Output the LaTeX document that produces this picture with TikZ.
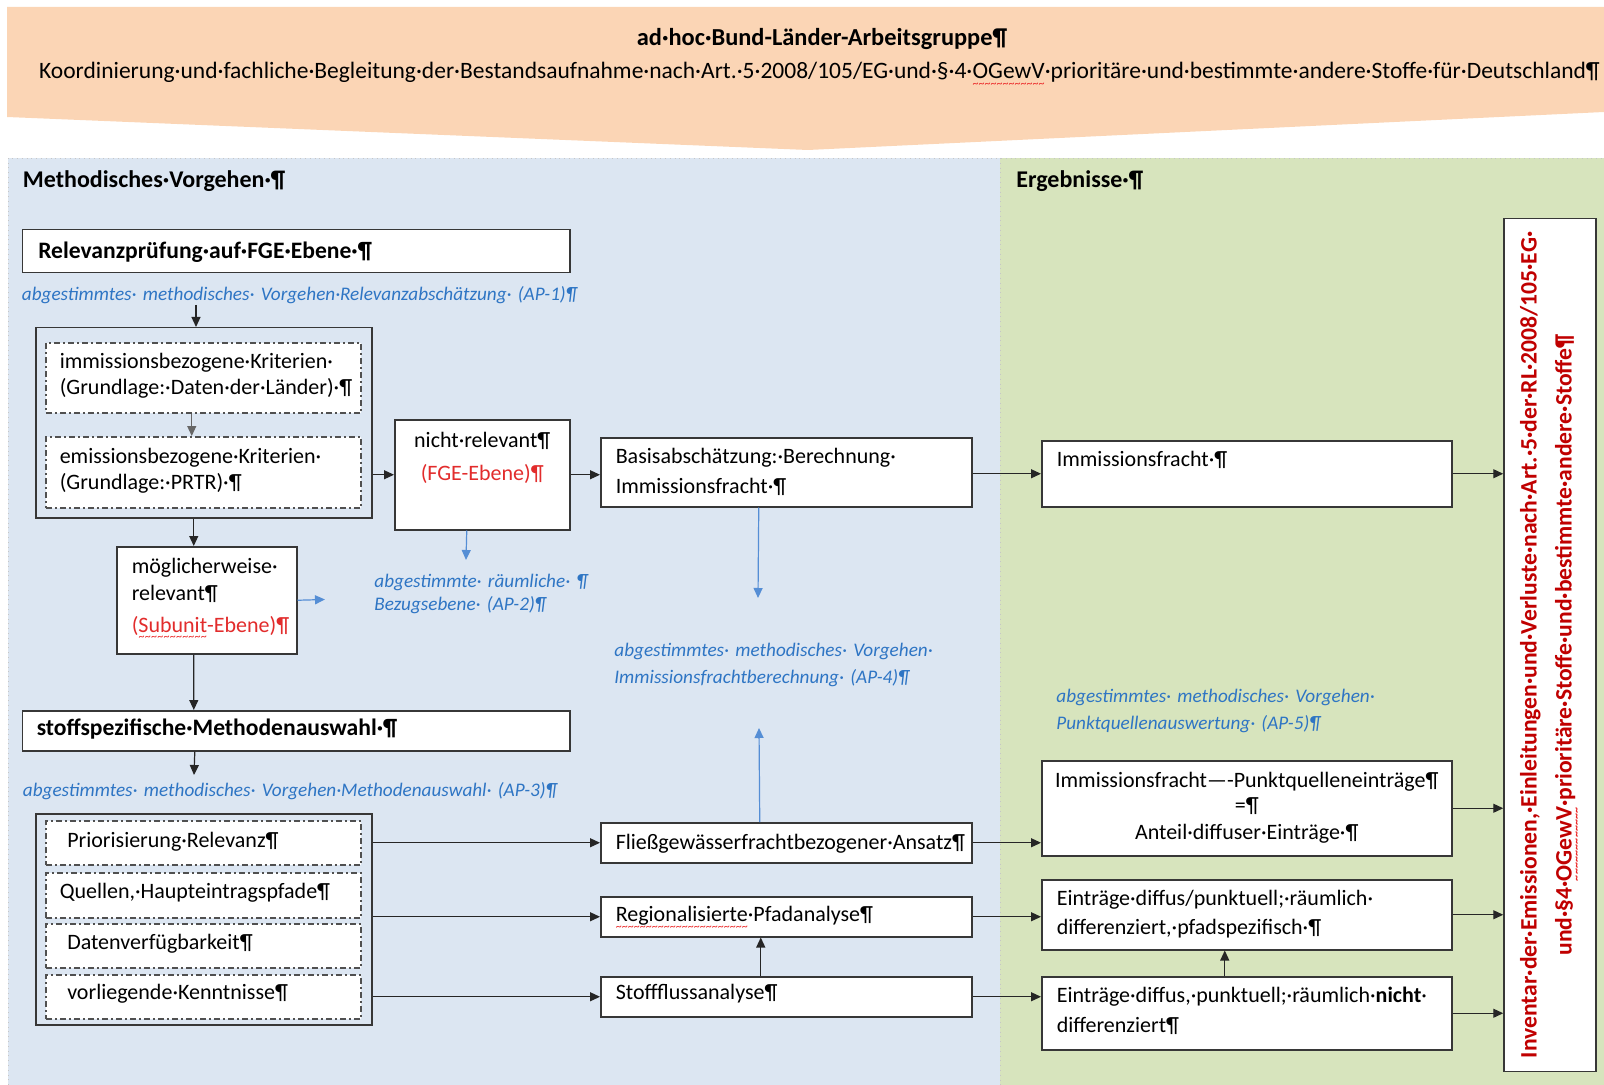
\documentclass[tikz,border=0pt]{standalone}
\usepackage{fontspec}
\setmainfont{Carlito}
\usepackage{tikz}
\usetikzlibrary{arrows.meta}

\definecolor{bannerorange}{RGB}{251,213,181}
\definecolor{panelblue}{RGB}{220,230,242}
\definecolor{panelgreen}{RGB}{215,228,189}
\definecolor{boxgray}{RGB}{55,55,55}
\definecolor{dashgray}{RGB}{80,80,80}
\definecolor{notetext}{RGB}{46,117,196}
\definecolor{notearrow}{RGB}{85,142,213}
\definecolor{fgered}{RGB}{226,44,44}
\definecolor{invred}{RGB}{192,0,0}
\definecolor{spellred}{RGB}{235,40,40}

\newcommand\spellmark[1]{\leavevmode\setbox0\hbox{#1}\rlap{\raisebox{-4.2pt}{\textcolor{spellred}{\hbox to\wd0{\xleaders\hbox{\fontsize{6}{6}\selectfont\textasciitilde}\hfill}}}}\box0}

\begin{document}
\begin{tikzpicture}[x=0.5pt, y=-0.5pt,
		box/.style={draw=boxgray, line width=0.75pt, fill=white, anchor=north west, inner ysep=0pt, inner xsep=7.5pt, align=left, font=\fontsize{11}{14.5}\selectfont},
		critbox/.style={box, draw=dashgray, dash pattern=on 3pt off 1.5pt on 1pt off 1.5pt, font=\fontsize{11}{13}\selectfont},
		outerbox/.style={draw=boxgray, line width=0.75pt, anchor=north west, inner sep=0pt},
		headbox/.style={box, font=\fontsize{11.8}{14}\selectfont\bfseries},
		note/.style={text=notetext, anchor=base west, inner sep=0pt, align=left, text width=330pt, font=\fontsize{9.6}{13.5}\selectfont\itshape},
		head/.style={anchor=base west, inner sep=0pt, font=\fontsize{12}{14}\selectfont\bfseries},
		arr/.style={-{Triangle[length=5pt,width=4.5pt]}, line width=0.6pt, draw=black!85},
		barr/.style={arr, draw=notearrow}]
	\useasboundingbox (0,0) rectangle (1604,1085);
	
	\fill [bannerorange] (7,7) -- (1604,7) -- (1604,112) -- (808,150) -- (7,117) -- cycle;
	\fill [panelblue] (8,158) rectangle (1000,1085);
	\fill [panelgreen] (1000,158) rectangle (1604,1085);
	\draw [gray!45, dotted] (8,1085) -- (8,158) -- (1604,158);
	\draw [gray!45, dotted] (1000,158) -- (1000,1085);
	
	\node [anchor=base, font=\fontsize{12.2}{14}\selectfont\bfseries] (title) at (822,46) {ad·hoc·Bund-Länder-Arbeitsgruppe¶};
	\node [anchor=base, font=\fontsize{11.75}{14}\selectfont] (subtitle) at (819.5,79) {Koordinierung·und·fachliche·Begleitung·der·Bestandsaufnahme·nach·Art.·5·2008/105/EG·und·§·4·\spellmark{OGewV}·prioritäre·und·bestimmte·andere·Stoffe·für·Deutschland¶};
	
	\node [head] (methods) at (22.5,188) {Methodisches·Vorgehen·¶};
	\node [head] (results) at (1016,188) {Ergebnisse·¶};
	
	\node [headbox, inner xsep=8pt, text width=257.75pt, text height=14.5pt, text depth=7pt] (rel) at (21.5,229) {Relevanzprüfung·auf·FGE·Ebene·¶};
	\node [note] (ap1) at (21.5,300) {abgestimmtes· methodisches· Vorgehen·Relevanzabschätzung· (AP-1)¶};
	
	\node [outerbox, minimum width=168pt, minimum height=95pt] (crit) at (35,327) {};
	\node [critbox, inner xsep=7pt, text width=143.5pt, text height=13pt, text depth=22pt] (immk) at (45,342) {immissionsbezogene·Kriterien·\\(Grundlage:·Daten·der·Länder)·¶};
	\node [critbox, inner xsep=7pt, text width=143.5pt, text height=13.5pt, text depth=22pt] (emik) at (45,436) {emissionsbezogene·Kriterien·\\(Grundlage:·PRTR)·¶};
	
	\node [box, align=center, inner xsep=2pt, text width=83.5pt, text height=14pt, text depth=41pt] (nicht) at (394,419) {nicht·relevant¶\\[2pt]\textcolor{fgered}{(FGE-Ebene)¶}};
	\node [box, text width=170.5pt, text height=13pt, text depth=21.5pt] (basis) at (600,437) {Basisabschätzung:·Berechnung·\\[0.5pt]Immissionsfracht·¶};
	\node [box, text width=75pt, text height=13.5pt, text depth=40pt] (mog) at (116,546) {möglicherweise·\\[-1.2pt]relevant¶\\[1.4pt]\rlap{\textcolor{fgered}{(\spellmark{Subunit}-Ebene)¶}}};
	\node [note] (ap2) at (374,587) {abgestimmte· räumliche· ¶\\[-2pt]Bezugsebene· (AP-2)¶};
	\node [note] (ap4) at (614,656) {abgestimmtes· methodisches· Vorgehen·\\Immissionsfrachtberechnung· (AP-4)¶};
	
	\node [headbox, inner xsep=7.25pt, text width=259.25pt, text height=12.5pt, text depth=7.5pt] (stoff) at (21.5,710) {stoffspezifische·Methodenauswahl·¶};
	\node [note] (ap3) at (22.5,796) {abgestimmtes· methodisches· Vorgehen·Methodenauswahl· (AP-3)¶};
	
	\node [outerbox, minimum width=168pt, minimum height=105.5pt] (sel) at (35,813) {};
	\node [critbox, inner xsep=10.75pt, text width=136pt, text height=13.5pt, text depth=8.5pt] (prio) at (45,820) {Priorisierung·Relevanz¶};
	\node [critbox, inner xsep=7pt, text width=143.5pt, text height=13pt, text depth=9.5pt] (quel) at (45,872) {Quellen,·Haupteintragspfade¶};
	\node [critbox, inner xsep=10.75pt, text width=136pt, text height=13pt, text depth=9pt] (daten) at (45,923) {Datenverfügbarkeit¶};
	\node [critbox, inner xsep=10.75pt, text width=136pt, text height=12.5pt, text depth=9.5pt] (vorl) at (45,974) {vorliegende·Kenntnisse¶};
	
	\node [box, text width=170.5pt, text height=13.5pt, text depth=6.5pt] (fliess) at (600,822) {Fließgewässerfrachtbezogener·Ansatz¶};
	\node [box, text width=170.5pt, text height=12.5pt, text depth=7.5pt] (regio) at (600,896) {\spellmark{Regionalisierte}·Pfadanalyse¶};
	\node [box, text width=170.5pt, text height=11.5pt, text depth=8.5pt] (stfl) at (600,976) {Stoffflussanalyse¶};
	
	\node [box, text width=190pt, text height=13pt, text depth=20pt] (immfr) at (1041,440) {Immissionsfracht·¶};
	\node [note] (ap5) at (1056,702) {abgestimmtes· methodisches· Vorgehen·\\Punktquellenauswertung· (AP-5)¶};
	\node [box, align=center, inner xsep=2pt, text width=201pt, text height=13.5pt, text depth=34pt, font=\fontsize{11}{13}\selectfont] (punkt) at (1041,760) {Immissionsfracht—-Punktquelleneinträge¶\\[-0.5pt]=¶\\[0.5pt]Anteil·diffuser·Einträge·¶};
	\node [box, text width=190pt, text height=13pt, text depth=22pt] (dp) at (1041,879) {Einträge·diffus/punktuell;·räumlich·\\differenziert,·pfadspezifisch·¶};
	\node [box, text width=190pt, text height=13pt, text depth=23.5pt] (nd) at (1041,976) {Einträge·diffus,·punktuell;·räumlich·\textbf{nicht}·\\[0.5pt]differenziert¶};
	
	\node [draw=boxgray, line width=0.75pt, fill=white, rotate=90, minimum width=424pt, minimum height=46pt, text width=420pt, align=center, text=invred, font=\fontsize{11.8}{17.5}\selectfont\bfseries] (inv) at (1550,645) {Inventar·der·Emissionen,·Einleitungen·und·Verluste·nach·Art.·5·der·RL·2008/105·EG·\\und·§4·\spellmark{OGewV}·prioritäre·Stoffe·und·bestimmte·andere·Stoffe¶};
	
	\coordinate (ap1-out) at (196,305);
	\coordinate (ap2-tip) at (466,560);
	\coordinate (ap2-left) at (325,599.5);
	\coordinate (ap3-in) at (194,775);
	\coordinate (ap4-top) at (758,598);
	\coordinate (ap4-bot) at (759,728);
	
	\draw [arr] (ap1-out) -- (ap1-out |- crit.north);
	\draw [arr, draw=black!60] ([xshift=-5.75pt]immk.south) -- ([xshift=-5.75pt]emik.north);
	\draw [arr] (crit.east |- nicht.west) -- (nicht.west);
	\draw [arr] (nicht.east) -- (nicht.east -| basis.west);
	\draw [arr] (basis.east |- immfr.west) -- (immfr.west);
	\draw [arr] (immfr.east) -- (immfr.east -| inv.north);
	\draw [barr] ([xshift=-7.75pt]nicht.south) -- (ap2-tip);
	\draw [arr] ([xshift=-5pt]crit.south) -- ([xshift=-6.5pt]mog.north);
	\draw [barr] (mog.east) -- (ap2-left);
	\draw [arr] ([xshift=-6.5pt]mog.south) -- ([xshift=-51.1pt]stoff.north);
	\draw [arr] ([xshift=-50.6pt]stoff.south) -- (ap3-in);
	\draw [barr] ([xshift=-13.75pt]basis.south) -- (ap4-top);
	\draw [barr] ([xshift=-13.25pt]fliess.north) -- (ap4-bot);
	\draw [arr] (sel.east |- fliess.west) -- (fliess.west);
	\draw [arr] (sel.east |- regio.west) -- (regio.west);
	\draw [arr] (sel.east |- stfl.west) -- (stfl.west);
	\draw [arr] ([xshift=-12.75pt]stfl.north) -- ([xshift=-12.75pt]regio.south);
	\draw [arr] (fliess.east) -- (fliess.east -| punkt.west);
	\draw [arr] (regio.east) -- (regio.east -| dp.west);
	\draw [arr] (stfl.east) -- (stfl.east -| nd.west);
	\draw [arr] ([xshift=-11pt]nd.north) -- ([xshift=-11pt]dp.south);
	\draw [arr] (punkt.east) -- (punkt.east -| inv.north);
	\draw [arr] (dp.east) -- (dp.east -| inv.north);
	\draw [arr] (nd.east) -- (nd.east -| inv.north);
\end{tikzpicture}
\end{document}
